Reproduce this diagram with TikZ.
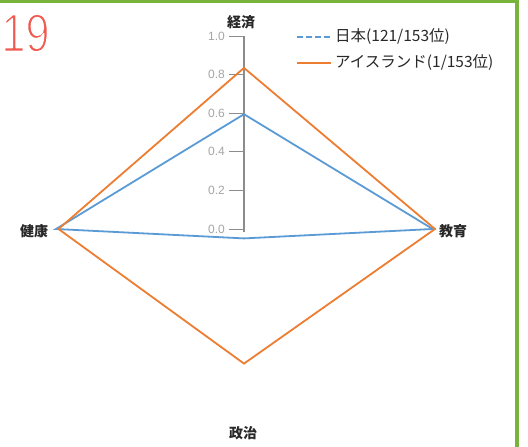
\documentclass[tikz,border=0pt]{standalone}
\usepackage{fontspec}
\setmainfont{Liberation Sans}
\newfontfamily\jpfont{Noto Sans CJK JP}
\newfontfamily\numfont{Liberation Sans}
\definecolor{jpblue}{RGB}{91,155,213}
\definecolor{isorange}{RGB}{237,125,49}
\definecolor{axisgray}{RGB}{140,140,140}
\definecolor{ticklab}{RGB}{165,165,165}
\definecolor{frameg}{RGB}{120,180,60}
\definecolor{numred}{RGB}{240,90,80}
\definecolor{txt}{RGB}{40,40,40}
\newcommand{\thinon}{\special{pdf:literal direct 2 Tr 1 1 1 RG 1.8 w 1 j}}
\newcommand{\thinoff}{\special{pdf:literal direct 0 Tr 0 j}}
\begin{document}
\begin{tikzpicture}[x=1pt,y=-1pt,
  series/.style={line width=1.8pt, line join=miter},
  jpser/.style={series, jpblue},
  isser/.style={series, isorange},
  catlabel/.style={font=\jpfont\bfseries\fontsize{14}{14}\selectfont, text=txt, inner sep=0pt},
  legtext/.style={font=\jpfont\fontsize{15.5}{15.5}\selectfont, text=txt, inner sep=0pt, anchor=west},
  ticklabel/.style={font=\fontsize{12}{12}\selectfont, text=ticklab, inner sep=0pt, anchor=east},
  tickmark/.style={axisgray, line width=1pt},
  framebar/.style={frameg}
]
\useasboundingbox (0,0) rectangle (528,447);
\fill[white] (0,0) rectangle (528,447);
% frame
\draw[framebar, line width=3pt] (0,1.5) -- (519,1.5);
\draw[framebar, line width=4pt] (517,0) -- (517,447);
% number
\node[text=numred, inner sep=0pt, font=\numfont\fontsize{54}{54}\selectfont, xscale=0.8] (num) at (25.5,33) {\thinon 19\thinoff};
% axis
\coordinate (o) at (244,229);
\coordinate (axtop) at (244,36);
\coordinate (axbot) at (244,232);
\draw[axisgray, line width=1.3pt] (axbot) -- (axtop);
\foreach \v/\l in {0/0.0,1/0.2,2/0.4,3/0.6,4/0.8,5/1.0}{
  \coordinate (t\v) at (244,{229-38.6*\v});
  \coordinate (ts\v) at (229,{229-38.6*\v});
  \draw[tickmark] (ts\v) -- (t\v);
  \node[ticklabel] (tl\v) at (225,{229-38.6*\v}) {\l};
}
% Japan
\coordinate (jE) at (244,114.2);
\coordinate (jEd) at (432.7,229);
\coordinate (jP) at (244,238.4);
\coordinate (jH) at (56,229);
\draw[jpser] (jE) -- (jEd) -- (jP) -- (jH) -- cycle;
% Iceland
\coordinate (iE) at (244,67.9);
\coordinate (iEd) at (435,229);
\coordinate (iP) at (244,363.6);
\coordinate (iH) at (58.5,229);
\draw[isser] (iE) -- (iEd) -- (iP) -- (iH) -- cycle;
% category labels
\node[catlabel] (lE) at (241,22) {経済};
\node[catlabel] (lH) at (34,231) {健康};
\node[catlabel] (lEd) at (453,231) {教育};
\node[catlabel] (lP) at (243,433) {政治};
% legend
\coordinate (la1) at (297,37);
\coordinate (lb1) at (331,37);
\coordinate (la2) at (297,63);
\coordinate (lb2) at (331,63);
\draw[jpblue, line width=1.6pt, dash pattern=on 6pt off 3pt] (la1) -- (lb1);
\draw[isorange, line width=1.6pt] (la2) -- (lb2);
\node[legtext] (lt1) at (335,37) {日本(121/153位)};
\node[legtext] (lt2) at (335,63) {アイスランド(1/153位)};
\end{tikzpicture}
\end{document}
